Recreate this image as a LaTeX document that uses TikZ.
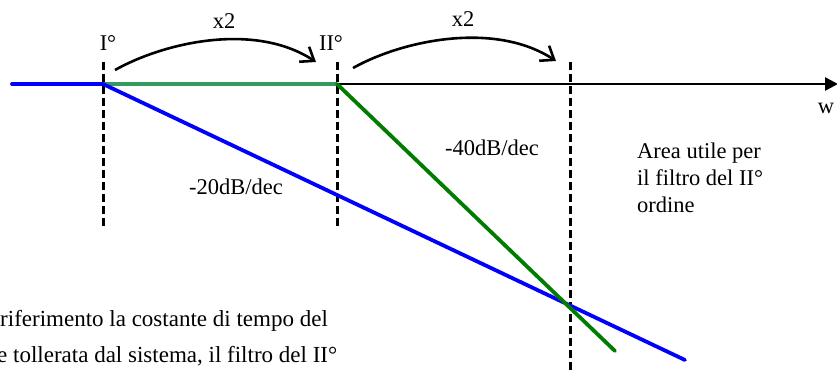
\documentclass[tikz,border=0pt]{standalone}
\usepackage{fontspec}
\setmainfont{Liberation Serif}
\usetikzlibrary{arrows.meta}
\definecolor{lgreen}{RGB}{51,155,95}
\definecolor{dgreen}{RGB}{0,125,0}
\tikzset{
  lbl/.style={inner sep=0pt, font=\fontsize{22.5}{27}\selectfont},
  txt/.style={inner sep=0pt, anchor=base west, font=\fontsize{23}{27}\selectfont},
  guide/.style={draw=black, line width=3pt, dash pattern=on 8pt off 4pt},
  jump/.style={draw=black, line width=2.6pt, -{Straight Barb[length=12pt,width=18pt,line width=2.6pt]}},
  bluel/.style={draw=blue, line width=3.8pt},
}
\begin{document}
\begin{tikzpicture}[x=1pt,y=-1pt]
\useasboundingbox (0,0) rectangle (837,370);
\clip (0,0) rectangle (837,370);
% key points
\coordinate (L) at (12,84);
\coordinate (A) at (103,84);
\coordinate (B) at (337,84);
\coordinate (R) at (838,84);
\coordinate (C) at (570,306);
\coordinate (Bend) at (685,360);
\coordinate (Gend) at (615,351);
% dashed guides
\coordinate (A1) at (103,62); \coordinate (A2) at (103,228);
\coordinate (B1) at (337,62); \coordinate (B2) at (337,228);
\coordinate (C1) at (570,62); \coordinate (C2) at (570,372);
\draw[guide] (A1) -- (A2);
\draw[guide] (B1) -- (B2);
\draw[guide] (C1) -- (C2);
% axis
\draw[black, line width=2.6pt, -{Triangle[length=13pt,width=13pt]}] (B) -- (R);
\draw[bluel, line cap=round] (L) -- (A);
\draw[lgreen, line width=3.8pt] (A) -- (B);
% slopes
\draw[bluel, line cap=round] (A) -- (Bend);
\draw[dgreen, line width=3.8pt, line cap=round] (B) -- (Gend);
% jumps
\coordinate (J1s) at (115,70); \coordinate (J1e) at (316,62);
\coordinate (J2s) at (353,68); \coordinate (J2e) at (556,61);
\draw[jump] (J1s) .. controls (165,42) and (255,22) .. (J1e);
\draw[jump] (J2s) .. controls (403,40) and (495,21) .. (J2e);
% labels
\node[lbl, anchor=base] (l1) at (108,50) {I°};
\node[lbl, anchor=base] (l2) at (331,50) {II°};
\node[lbl, anchor=base] (x1) at (224,28) {x2};
\node[lbl, anchor=base] (x2) at (463,26) {x2};
\node[lbl, anchor=base] (w) at (826,113) {w};
\node[lbl, anchor=base] (s1) at (236,194) {-20dB/dec};
\node[lbl, anchor=base] (s2) at (492,155) {-40dB/dec};
\node[lbl, anchor=base west] (a1) at (637,158) {Area utile per};
\node[lbl, anchor=base west] (a2) at (637,185) {il filtro del II°};
\node[lbl, anchor=base west] (a3) at (637,212) {ordine};
\node[txt] (t1) at (0,326) {riferimento la costante di tempo del};
\node[txt] (t2) at (-3,362) {e tollerata dal sistema, il filtro del II°};
\end{tikzpicture}
\end{document}
